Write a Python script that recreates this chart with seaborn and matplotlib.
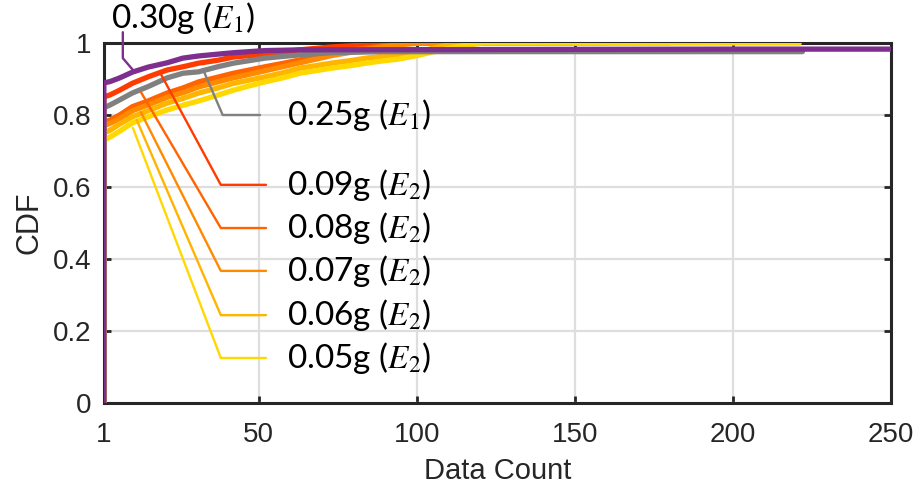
import matplotlib
matplotlib.use("Agg")
import matplotlib.pyplot as plt
import seaborn as sns
import pandas as pd

# Empirical CDF of data count, points read as (count, cumulative fraction)
counts_030 = [1, 1, 3, 6, 10, 15, 21, 26, 31, 37, 42, 47, 52, 58, 63, 200, 250]
cdf_030 = [0.0, 0.889, 0.893, 0.903, 0.919, 0.933, 0.945, 0.958, 0.964, 0.969,
           0.973, 0.976, 0.979, 0.980, 0.981, 0.983, 0.983]

counts_025 = [1, 1, 3, 6, 10, 15, 21, 26, 31, 37, 42, 47, 52, 58, 63, 68, 73,
              79, 84, 89, 222]
cdf_025 = [0.0, 0.820, 0.828, 0.842, 0.861, 0.879, 0.903, 0.916, 0.920, 0.934,
           0.944, 0.951, 0.958, 0.963, 0.967, 0.970, 0.973, 0.974, 0.975, 0.976,
           0.976]

counts_009 = [1, 1, 3, 6, 10, 15, 21, 26, 31, 37, 42, 47, 52, 58, 63, 68, 73,
              79, 84, 89, 94, 100, 150]
cdf_009 = [0.0, 0.850, 0.856, 0.869, 0.888, 0.906, 0.925, 0.934, 0.944, 0.952,
           0.961, 0.965, 0.969, 0.975, 0.981, 0.985, 0.989, 0.992, 0.994, 0.997,
           0.999, 1.0, 1.0]

counts_008 = [1, 1, 3, 6, 10, 15, 21, 26, 31, 37, 42, 47, 52, 58, 63, 68, 73,
              79, 84, 89, 94, 100, 150]
cdf_008 = [0.0, 0.780, 0.786, 0.800, 0.823, 0.839, 0.861, 0.875, 0.892, 0.905,
           0.916, 0.925, 0.934, 0.944, 0.953, 0.962, 0.972, 0.980, 0.986, 0.992,
           0.997, 1.0, 1.0]

counts_007 = [1, 1, 3, 6, 10, 15, 21, 26, 31, 37, 42, 47, 52, 58, 63, 68, 73,
              79, 84, 89, 94, 100, 105, 160]
cdf_007 = [0.0, 0.770, 0.777, 0.790, 0.812, 0.828, 0.849, 0.862, 0.878, 0.892,
           0.903, 0.913, 0.923, 0.935, 0.945, 0.955, 0.965, 0.974, 0.982, 0.989,
           0.995, 0.999, 1.0, 1.0]

counts_006 = [1, 1, 3, 6, 10, 15, 21, 26, 31, 37, 42, 47, 52, 58, 63, 68, 73,
              79, 84, 89, 94, 100, 105, 110, 115, 180]
cdf_006 = [0.0, 0.750, 0.758, 0.775, 0.795, 0.812, 0.833, 0.846, 0.861, 0.875,
           0.888, 0.897, 0.906, 0.918, 0.930, 0.937, 0.944, 0.951, 0.958, 0.963,
           0.967, 0.975, 0.985, 0.995, 1.0, 1.0]

counts_005 = [1, 1, 3, 6, 10, 15, 21, 26, 31, 37, 42, 47, 52, 58, 63, 68, 73,
              79, 84, 89, 94, 100, 105, 110, 115, 121, 221]
cdf_005 = [0.0, 0.730, 0.739, 0.755, 0.778, 0.795, 0.814, 0.827, 0.839, 0.855,
           0.869, 0.881, 0.892, 0.904, 0.916, 0.923, 0.930, 0.937, 0.944, 0.950,
           0.955, 0.965, 0.975, 0.985, 0.993, 1.0, 1.0]

series_names = ["0.09g", "0.08g", "0.07g", "0.06g", "0.05g", "0.25g", "0.30g"]
series_counts = [counts_009, counts_008, counts_007, counts_006, counts_005,
                 counts_025, counts_030]
series_cdfs = [cdf_009, cdf_008, cdf_007, cdf_006, cdf_005, cdf_025, cdf_030]
series_labels = ["0.09g ($E_2$)", "0.08g ($E_2$)", "0.07g ($E_2$)",
                 "0.06g ($E_2$)", "0.05g ($E_2$)", "0.25g ($E_1$)",
                 "0.30g ($E_1$)"]

x_ticks = [1, 50, 100, 150, 200, 250]
y_ticks = [0, 0.2, 0.4, 0.6, 0.8, 1]
y_tick_labels = ["0", "0.2", "0.4", "0.6", "0.8", "1"]

palette = {
    "0.09g": "#FF3C00",
    "0.08g": "#FF6400",
    "0.07g": "#FF8A00",
    "0.06g": "#FFB400",
    "0.05g": "#FFD800",
    "0.25g": "#808080",
    "0.30g": "#7E2F8E",
}

# Leader lines for the inline labels: curve point -> elbow -> label start
leaders = {
    "0.09g": [(18.7, 0.919), (38.0, 0.606), (52.3, 0.606)],
    "0.08g": [(12.7, 0.864), (38.0, 0.486), (52.3, 0.486)],
    "0.07g": [(12.7, 0.808), (38.0, 0.367), (52.3, 0.367)],
    "0.06g": [(11.4, 0.786), (38.0, 0.244), (52.3, 0.244)],
    "0.05g": [(10.2, 0.764), (38.0, 0.125), (52.3, 0.125)],
    "0.25g": [(32.3, 0.928), (38.6, 0.800), (50.4, 0.800)],
    "0.30g": [(10.2, 0.925), (7.0, 0.958), (7.0, 1.03)],
}
label_anchor = {
    "0.09g": (58.9, 0.606, "left"),
    "0.08g": (58.9, 0.486, "left"),
    "0.07g": (58.9, 0.367, "left"),
    "0.06g": (58.9, 0.244, "left"),
    "0.05g": (58.9, 0.125, "left"),
    "0.25g": (58.9, 0.800, "left"),
    "0.30g": (26.0, 1.070, "center"),
}

frames = []
for name, cx, cy in zip(series_names, series_counts, series_cdfs):
    frames.append(pd.DataFrame({"count": cx, "cdf": cy, "series": name}))
df = pd.concat(frames, ignore_index=True)

sns.set_style("ticks")
plt.rcParams["font.family"] = ["Liberation Sans", "DejaVu Sans"]
plt.rcParams["mathtext.fontset"] = "stix"

fig = plt.figure(figsize=(9.19, 4.87), dpi=100)
ax = fig.add_axes([0.113, 0.1725, 0.8565, 0.7392])

ax.grid(True, color="#DEDEDE", linewidth=1.6, zorder=0)
ax.set_axisbelow(True)

sns.lineplot(data=df, x="count", y="cdf", hue="series", hue_order=series_names,
             palette=palette, estimator=None, sort=False, linewidth=3.8,
             legend=False, ax=ax)

for name, text in zip(series_names, series_labels):
    pts = leaders[name]
    ax.plot([p[0] for p in pts], [p[1] for p in pts], color=palette[name],
            linewidth=1.7, clip_on=False, zorder=5)
    tx, ty, ha = label_anchor[name]
    ax.text(tx, ty, text, ha=ha, va="center", fontsize=24,
            family=["Lato", "DejaVu Sans"], color="black", clip_on=False,
            zorder=6)

ax.set_xlim(1, 250)
ax.set_ylim(0, 1)
ax.set_xticks(x_ticks)
ax.set_yticks(y_ticks)
ax.set_yticklabels(y_tick_labels)
ax.set_xlabel("Data Count", fontsize=21, color="#262626", labelpad=6)
ax.set_ylabel("CDF", fontsize=22, color="#262626", labelpad=6)

ax.tick_params(axis="both", which="both", direction="in", length=5, width=2,
               labelsize=20, colors="#262626", top=True, right=True)
ax.tick_params(axis="x", pad=14)
ax.tick_params(axis="y", pad=9)
# the box sits beneath the curves so the rise at count 1 stays visible
for s in ax.spines.values():
    s.set_visible(True)
    s.set_color("#262626")
    s.set_linewidth(2.2)
    s.set_zorder(1.5)

fig.savefig("out.png", dpi=100, facecolor="white")
